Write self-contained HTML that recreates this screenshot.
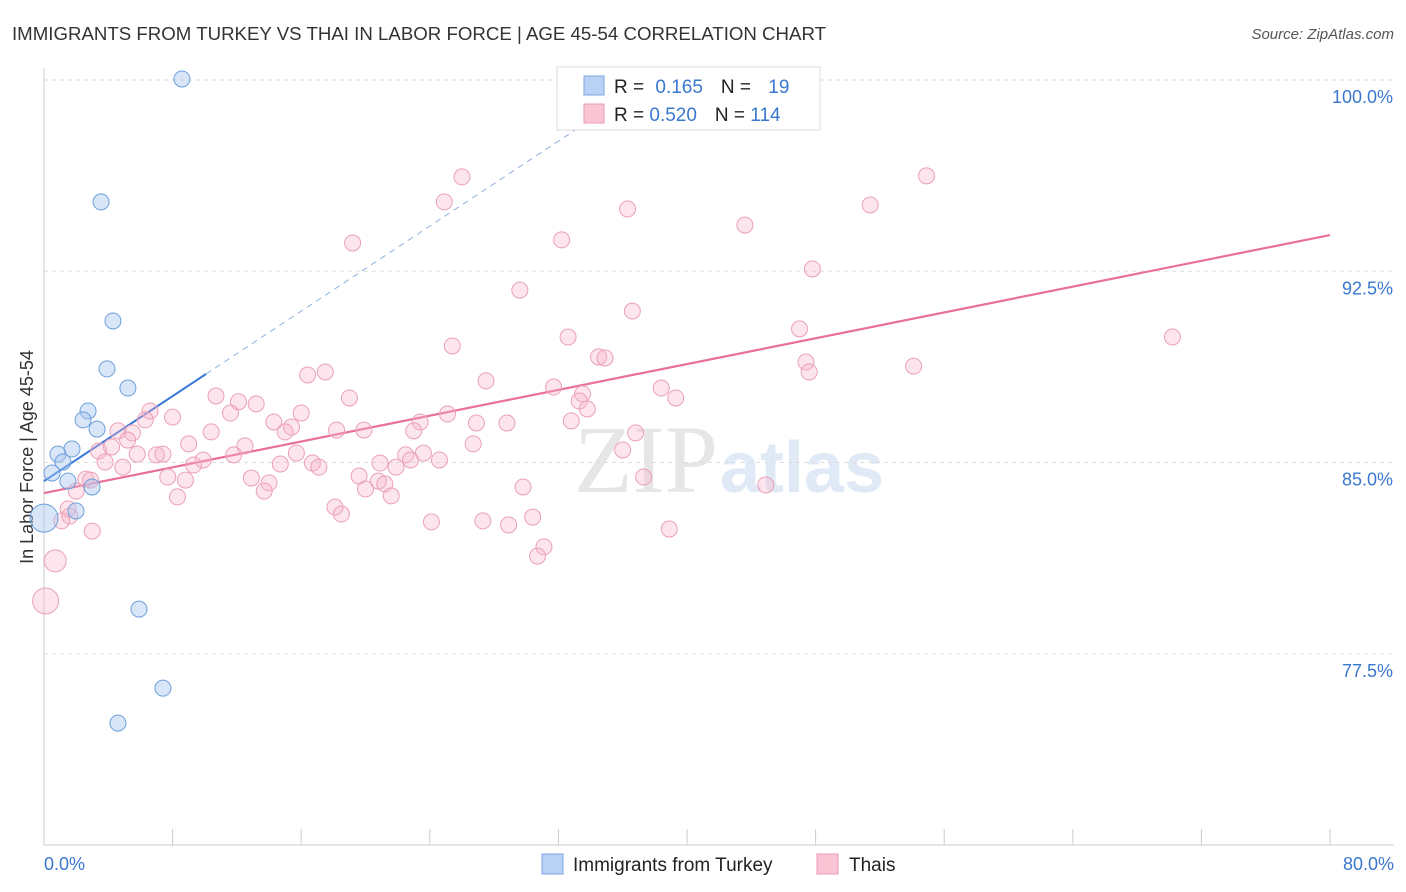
<!DOCTYPE html>
<html><head><meta charset="utf-8">
<style>
body{margin:0;background:#fff;font-family:"Liberation Sans",sans-serif;}
svg{display:block}
</style></head>
<body>
<svg id="chart" width="1406" height="892" xmlns="http://www.w3.org/2000/svg">
<text x="12" y="40" font-size="18" fill="#333" textLength="814" lengthAdjust="spacingAndGlyphs">IMMIGRANTS FROM TURKEY VS THAI IN LABOR FORCE | AGE 45-54 CORRELATION CHART</text>
<text x="1394" y="39" font-size="15" fill="#555" font-style="italic" text-anchor="end">Source: ZipAtlas.com</text>
<text transform="translate(33,457) rotate(-90)" font-size="18" fill="#333" text-anchor="middle">In Labor Force | Age 45-54</text>
<text x="718" y="492" font-size="96" fill="#e6e6e6" text-anchor="end" font-family="Liberation Serif">ZIP</text>
<text x="720" y="492" font-size="72" fill="#e0eaf6" font-weight="bold">atlas</text>
<g id="grid"></g><g id="axes"></g><g id="lines"></g><g id="pts"></g>
<g>
<rect x="557" y="67" width="263" height="63" fill="#fff" stroke="#ddd"/>
<rect x="584" y="76" width="20" height="19" fill="#b8d2f5" stroke="#7aa6e0"/>
<rect x="584" y="104" width="20" height="19" fill="#f9c5d4" stroke="#eb9ab4"/>
<text x="614" y="93" font-size="19" fill="#222">R = <tspan fill="#3a78d0" dx="6">0.165</tspan><tspan dx="18">N = </tspan><tspan fill="#3a78d0" dx="12">19</tspan></text>
<text x="614" y="121" font-size="19" fill="#222">R = <tspan fill="#3a78d0">0.520</tspan><tspan dx="18">N = </tspan><tspan fill="#3a78d0">114</tspan></text>
</g>
<g>
<rect x="542" y="854" width="21" height="20" fill="#b8d2f5" stroke="#7aa6e0"/>
<text x="573" y="871" font-size="19" fill="#222">Immigrants from Turkey</text>
<rect x="817" y="854" width="21" height="20" fill="#f9c5d4" stroke="#eb9ab4"/>
<text x="849" y="871" font-size="19" fill="#222">Thais</text>
</g>
</svg>
<script>
const yTicks=[100,92.5,85,77.5];
const yTickLabels=["100.0%","92.5%","85.0%","77.5%"];
const xTickLabels=["0.0%","80.0%"];
const turkeyX=[8.58,3.55,4.29,3.92,5.22,2.74,2.43,3.30,1.74,0.87,1.18,0.50,1.49,2.99,1.99,0,5.91,7.40,4.60];
const turkeyY=[100.04,95.22,90.55,88.67,87.92,87.02,86.67,86.31,85.53,85.33,85.02,84.59,84.27,84.04,83.1,82.82,79.25,76.15,74.78];
const turkeyR=[8,8,8,8,8,8,8,8,8,8,8,8,8,8,8,14,8,8,8];
const thaiX=[41.7,26.0,54.9,24.9,36.3,51.4,43.6,19.2,32.2,47.8,29.6,36.6,47.0,32.6,70.2,25.4,34.5,34.9,47.4,54.1,47.6,16.4,17.5,27.5,31.7,38.4,33.5,39.3,19.0,10.7,12.1,13.2,6.6,8.0,11.6,6.3,16.0,33.3,33.8,25.1,26.9,28.8,23.4,14.3,15.4,15.0,18.2,19.9,23.0,32.8,36.8,4.6,5.5,5.2,9.0,10.4,12.5,3.4,4.2,11.8,15.7,23.6,7.0,7.4,5.8,26.7,36.0,9.9,9.3,14.7,16.7,22.5,22.8,20.9,21.9,24.6,3.8,4.9,17.1,2.6,2.9,7.7,8.8,12.9,14.0,19.6,20.8,21.2,37.3,29.8,44.9,2.0,8.3,13.7,20.0,21.6,18.1,18.5,1.5,1.6,1.1,24.1,27.3,28.9,30.4,3.0,38.9,31.1,30.7,0.7,0.1];
const thaiY=[100.0,96.2,96.24,95.22,94.94,95.1,94.31,93.61,93.73,92.59,91.76,90.94,90.24,89.92,89.92,89.57,89.14,89.10,88.94,88.78,88.55,88.43,88.55,88.2,87.96,87.92,87.69,87.53,87.53,87.61,87.38,87.3,87.02,86.78,86.94,86.67,86.94,87.41,87.1,86.9,86.55,86.55,86.59,86.59,86.39,86.2,86.27,86.27,86.24,86.63,86.16,86.24,86.16,85.88,85.73,86.2,85.65,85.45,85.61,85.3,85.37,85.37,85.3,85.33,85.33,85.73,85.49,85.1,84.9,84.94,84.98,85.3,85.1,84.98,84.82,85.1,85.02,84.82,84.82,84.35,84.31,84.43,84.31,84.39,84.2,84.47,84.27,84.16,84.43,84.04,84.12,83.88,83.65,83.88,83.96,83.69,83.25,82.98,83.18,82.9,82.71,82.67,82.71,82.55,82.86,82.31,82.39,81.69,81.33,81.14,79.57];
const turkeyTrend=[0,84.27,10.08,88.47,33.96];
const thaiTrend=[0,83.80,80,93.92];
const NS="http://www.w3.org/2000/svg";
const X=v=>44+v*16.075, Y=v=>80+(100-v)*25.5;
function mk(tag,attrs,parent){const e=document.createElementNS(NS,tag);for(const k in attrs)e.setAttribute(k,attrs[k]);document.getElementById(parent).appendChild(e);return e;}
yTicks.forEach((t,i)=>{
 const l=mk('line',{x1:44,x2:1394,y1:Y(t),y2:Y(t),stroke:'#ddd','stroke-dasharray':'4,4'},'grid');
 
 
 const tx=mk('text',{x:1393,y:Y(t)+23,'font-size':18,fill:'#3a78d0','text-anchor':'end'},'grid');
 tx.textContent=yTickLabels[i];
 
 
});
const ax=mk('line',{x1:44,x2:44,y1:68,y2:845,stroke:'#ccc'},'axes');


const bx=mk('line',{x1:44,x2:1394,y1:845,y2:845,stroke:'#ccc'},'axes');


for(let i=0;i<=10;i++){
 const t=mk('line',{x1:X(i*8),x2:X(i*8),y1:829,y2:845,stroke:'#ccc'},'axes');
 
 
}
[[0,'start',44],[80,'end',1394]].forEach((a,i)=>{
 const t=mk('text',{x:a[2],y:870,'font-size':18,fill:'#3a78d0','text-anchor':a[1]},'axes');
 t.textContent=xTickLabels[i];
 
 
});
for(let i=0;i<thaiX.length;i++){
 const c=mk('circle',{cx:X(thaiX[i]),cy:Y(thaiY[i]),r:(thaiX[i]<1&&thaiY[i]<82)?(thaiY[i]<80?13:11):8,fill:'rgba(246,180,200,0.35)',stroke:'#eba0b8','stroke-width':1},'pts');
 
 
}
for(let i=0;i<turkeyX.length;i++){
 const c=mk('circle',{cx:X(turkeyX[i]),cy:Y(turkeyY[i]),r:turkeyR[i],fill:'rgba(170,200,240,0.45)',stroke:'#6d9fdc','stroke-width':1},'pts');
 
 
}
const slope=(turkeyTrend[3]-turkeyTrend[1])/(turkeyTrend[2]-turkeyTrend[0]);
const l1=mk('line',{x1:X(turkeyTrend[0]),y1:Y(turkeyTrend[1]),x2:X(turkeyTrend[2]),y2:Y(turkeyTrend[3]),stroke:'#3a78d8','stroke-width':2},'lines');


const l2=mk('line',{x1:X(turkeyTrend[2]),y1:Y(turkeyTrend[3]),x2:X(turkeyTrend[4]),y2:Y(turkeyTrend[1]+slope*turkeyTrend[4]),stroke:'#8fb0e0','stroke-width':1,'stroke-dasharray':'6,5'},'lines');


const l3=mk('line',{x1:X(thaiTrend[0]),y1:Y(thaiTrend[1]),x2:X(thaiTrend[2]),y2:Y(thaiTrend[3]),stroke:'#e8709a','stroke-width':2.2},'lines');


</script>
</body></html>
